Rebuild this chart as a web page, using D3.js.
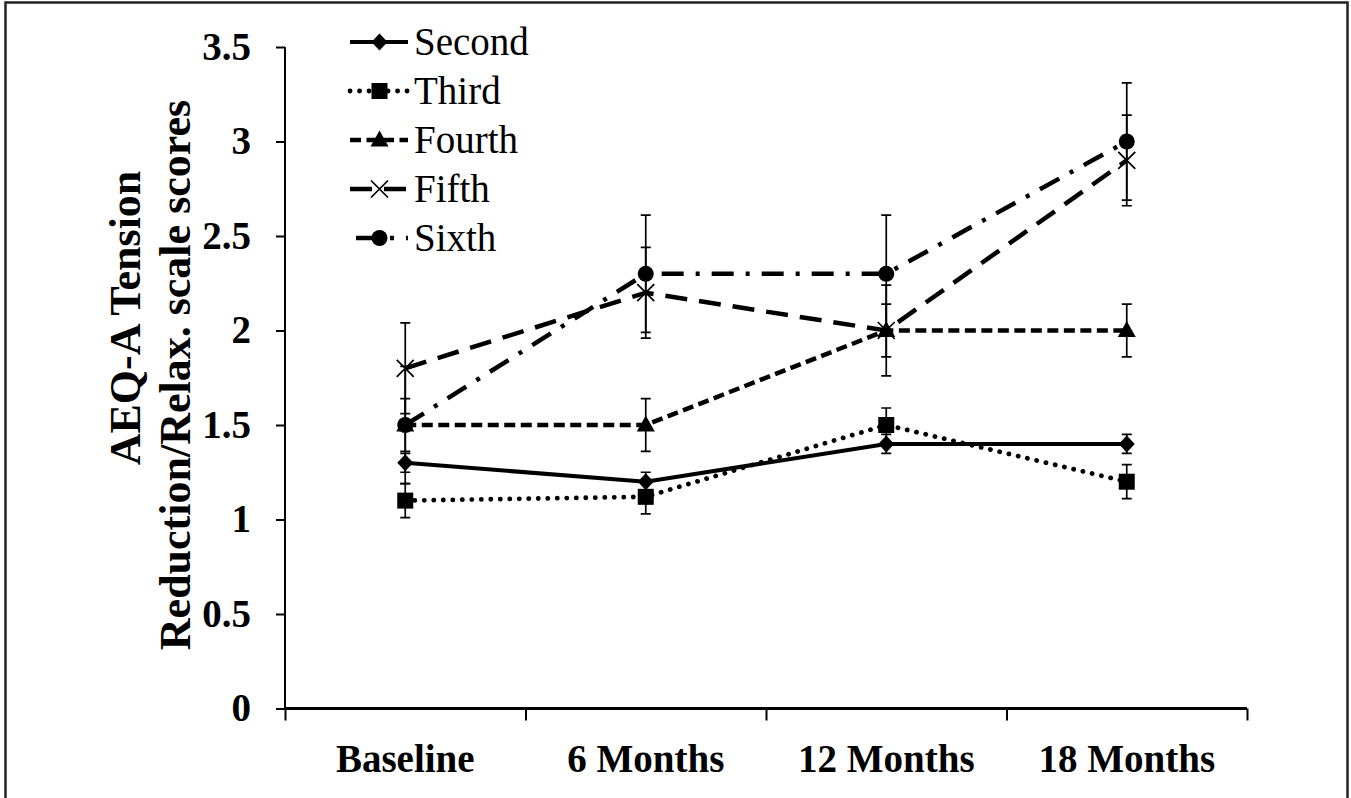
<!DOCTYPE html>
<html><head><meta charset="utf-8">
<script src="https://cdn.jsdelivr.net/npm/d3@7"></script>
<style>body{margin:0;background:#fff}svg{display:block}</style>
</head><body>
<svg id="chart" width="1351" height="798"></svg>
<script>
// ---- data ----
const categories = ["Baseline", "6 Months", "12 Months", "18 Months"];
const seriesNames = ["Second", "Third", "Fourth", "Fifth", "Sixth"];
const second = [1.3, 1.2, 1.4, 1.4];
const third  = [1.1, 1.12, 1.5, 1.2];
const fourth = [1.5, 1.5, 2.0, 2.0];
const fifth  = [1.8, 2.2, 2.0, 2.9];
const sixth  = [1.5, 2.3, 2.3, 3.0];
const errors = [0.05, 0.09, 0.14, 0.24, 0.31];
const yTicks = [0, 0.5, 1, 1.5, 2, 2.5, 3, 3.5];
const yTitle = ["AEQ-A Tension", "Reduction/Relax. scale scores"];

const seriesValues = [second, third, fourth, fifth, sixth];

// ---- styles ----
const styles = [
  {dash: null, width: 4, cap: "butt", marker: "diamond", legOffset: 0},
  {dash: "0.1,9.4", width: 4.8, cap: "round", marker: "square", legOffset: 0},
  {dash: "11,5.5", width: 4.5, cap: "butt", marker: "triangle", legOffset: 0},
  {dash: "22,12", width: 4.5, cap: "butt", marker: "x", legOffset: 0},
  {dash: "22,12,4,12", width: 4.5, cap: "butt", marker: "circle", legOffset: -6}
];

const svg = d3.select("#chart");
const font = "'Liberation Serif','Times New Roman',serif";

// frame
svg.append("rect").attr("x", 5.5).attr("y", 2.5).attr("width", 1342).attr("height", 820)
  .attr("fill", "none").attr("stroke", "#222").attr("stroke-width", 2.5);

const pLeft = 285, pRight = 1247, pTop = 47, pBottom = 708.5;

const y = d3.scaleLinear().domain([0, 3.5]).range([pBottom, pTop]);
const x = d3.scaleBand().domain(categories).range([pLeft, pRight]).padding(0);
const xb = d3.scaleLinear().domain([0, categories.length]).range([pLeft, pRight]);
const cx = c => x(c) + x.bandwidth() / 2;

// y axis
const yAxis = svg.append("g").attr("transform", `translate(${pLeft},0)`)
  .call(d3.axisLeft(y).tickValues(yTicks).tickSize(9).tickPadding(25).tickFormat(d => String(d)));
yAxis.select(".domain").attr("stroke", "#000").attr("stroke-width", 2).attr("d", `M0,${pTop}V${pBottom}`);
yAxis.selectAll(".tick line").attr("stroke", "#000").attr("stroke-width", 2);
yAxis.selectAll("text").attr("font-family", font).attr("font-weight", "bold")
  .attr("font-size", 39).attr("fill", "#000");

// x axis (boundary ticks)
const xAxisT = svg.append("g").attr("transform", `translate(0,${pBottom})`)
  .call(d3.axisBottom(xb).tickValues(d3.range(categories.length + 1)).tickSize(12).tickFormat(""));
xAxisT.select(".domain").attr("stroke", "#000").attr("stroke-width", 3).attr("d", `M${pLeft},0H${pRight}`);
xAxisT.selectAll(".tick line").attr("stroke", "#000").attr("stroke-width", 2);

// x labels
const xAxisL = svg.append("g").attr("transform", `translate(0,${pBottom})`)
  .call(d3.axisBottom(x).tickSize(0).tickPadding(36));
xAxisL.select(".domain").remove();
xAxisL.selectAll("text").attr("font-family", font).attr("font-weight", "bold")
  .attr("font-size", 39).attr("fill", "#000");

// y title
svg.append("text").attr("transform", "translate(140,318) rotate(-90)")
  .attr("font-family", font).attr("font-weight", "bold").attr("font-size", 44)
  .attr("text-anchor", "middle").text(yTitle[0]);
svg.append("text").attr("transform", "translate(190,375) rotate(-90)")
  .attr("font-family", font).attr("font-weight", "bold").attr("font-size", 44)
  .attr("text-anchor", "middle").text(yTitle[1]);

// marker drawing
function drawMarker(g, type, px, py) {
  if (type === "diamond") {
    g.append("path").attr("d", `M${px},${py-8.5}L${px+8},${py}L${px},${py+8.5}L${px-8},${py}Z`).attr("fill", "#000");
  } else if (type === "square") {
    g.append("rect").attr("x", px-8).attr("y", py-8).attr("width", 16).attr("height", 16).attr("fill", "#000");
  } else if (type === "triangle") {
    g.append("path").attr("d", `M${px},${py-9.5}L${px+9},${py+6.5}L${px-9},${py+6.5}Z`).attr("fill", "#000");
  } else if (type === "circle") {
    g.append("circle").attr("cx", px).attr("cy", py).attr("r", 8).attr("fill", "#000");
  } else if (type === "x") {
    g.append("path").attr("d", `M${px-8.5},${py-8.5}L${px+8.5},${py+8.5}M${px+8.5},${py-8.5}L${px-8.5},${py+8.5}`)
      .attr("stroke", "#000").attr("stroke-width", 1.7).attr("fill", "none");
  }
}

const line = d3.line().x(d => cx(d.c)).y(d => y(d.v));

seriesValues.forEach((vals, i) => {
  const st = styles[i];
  const pts = vals.map((v, j) => ({c: categories[j], v}));
  const g = svg.append("g");
  g.append("path").datum(pts).attr("d", line).attr("fill", "none").attr("stroke", "#000")
    .attr("stroke-width", st.width).attr("stroke-linecap", st.cap)
    .attr("stroke-dasharray", st.dash);
  pts.forEach(p => {
    const px = cx(p.c), e = errors[i];
    g.append("path").attr("d",
      `M${px},${y(p.v + e)}V${y(p.v - e)}M${px-5},${y(p.v + e)}H${px+5}M${px-5},${y(p.v - e)}H${px+5}`)
      .attr("stroke", "#000").attr("stroke-width", 1.7).attr("fill", "none");
  });
  pts.forEach(p => drawMarker(g, st.marker, cx(p.c), y(p.v)));
});

// legend
const legX0 = 350, legX1 = 408, legY0 = 42, legDy = 49;
seriesNames.forEach((name, i) => {
  const st = styles[i];
  const ly = legY0 + i * legDy;
  const g = svg.append("g");
  g.append("line").attr("x1", legX0).attr("x2", legX1).attr("y1", ly).attr("y2", ly)
    .attr("stroke", "#000").attr("stroke-width", st.width).attr("stroke-linecap", st.cap)
    .attr("stroke-dasharray", st.dash).attr("stroke-dashoffset", st.legOffset);
  drawMarker(g, st.marker, (legX0 + legX1) / 2 + 0.5, ly);
  g.append("text").attr("x", 414).attr("y", ly + 13).attr("font-family", font)
    .attr("font-size", 39).attr("fill", "#000").text(name);
});
</script>
</body></html>
